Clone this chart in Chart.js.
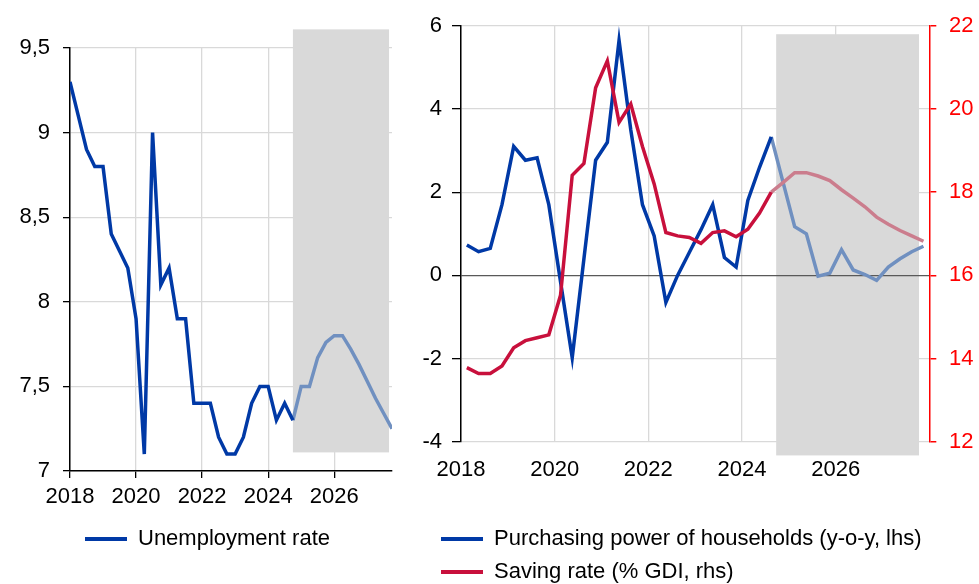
<!DOCTYPE html>
<html>
<head>
<meta charset="utf-8">
<script src="https://cdn.jsdelivr.net/npm/chart.js@4.4.1/dist/chart.umd.min.js"></script>
<style>
  html, body { margin: 0; padding: 0; background: #fff; overflow: hidden; }
  #left { position: absolute; left: 0; top: 0; }
  #right { position: absolute; left: 400px; top: 0; }
</style>
</head>
<body>
<canvas id="left" width="400" height="584"></canvas>
<canvas id="right" width="579" height="584"></canvas>
<script>
// quarterly data, 2018Q1 - 2027Q4
const quarters = [
    '2018Q1', '2018Q2', '2018Q3', '2018Q4', '2019Q1', '2019Q2', '2019Q3', '2019Q4',
    '2020Q1', '2020Q2', '2020Q3', '2020Q4', '2021Q1', '2021Q2', '2021Q3', '2021Q4',
    '2022Q1', '2022Q2', '2022Q3', '2022Q4', '2023Q1', '2023Q2', '2023Q3', '2023Q4',
    '2024Q1', '2024Q2', '2024Q3', '2024Q4', '2025Q1', '2025Q2', '2025Q3', '2025Q4',
    '2026Q1', '2026Q2', '2026Q3', '2026Q4', '2027Q1', '2027Q2', '2027Q3', '2027Q4'
];

const unemployment = [
    9.3, 9.1, 8.9, 8.8, 8.8, 8.4, 8.3, 8.2,
    7.9, 7.1, 9.0, 8.1, 8.2, 7.9, 7.9, 7.4,
    7.4, 7.4, 7.2, 7.1, 7.1, 7.2, 7.4, 7.5,
    7.5, 7.3, 7.4, 7.3, 7.5, 7.5, 7.67, 7.76,
    7.8, 7.8, 7.72, 7.63, 7.53, 7.43, 7.34, 7.25
];

const purchasingPower = [
    0.73, 0.57, 0.65, 1.7, 3.1, 2.77, 2.83, 1.7,
    -0.15, -1.98, 0.4, 2.77, 3.2, 5.65, 3.5, 1.7,
    0.95, -0.65, 0.0, 0.55, 1.1, 1.7, 0.43, 0.2,
    1.8, 2.6, 3.33, 2.25, 1.17, 1.0, -0.02, 0.05,
    0.62, 0.13, 0.02, -0.12, 0.2, 0.4, 0.57, 0.7
];

const savingRate = [
    13.78, 13.64, 13.64, 13.82, 14.26, 14.43, 14.5, 14.57,
    15.52, 18.41, 18.69, 20.51, 21.16, 19.68, 20.12, 19.1,
    18.2, 17.03, 16.95, 16.91, 16.77, 17.03, 17.07, 16.93,
    17.11, 17.5, 18.0, 18.23, 18.47, 18.47, 18.39, 18.28,
    18.06, 17.86, 17.65, 17.4, 17.23, 17.08, 16.95, 16.82
];

const unemploymentLastActual = '2024Q4';
const householdLastActual = '2024Q3';
const yearTicks = [2018, 2020, 2022, 2024, 2026];

// forecast period shading (in axis units)
const shadeLeft = { from: 2024.75, to: 2027.66, top: 9.61, bottom: 7.11 };
const shadeRight = { from: 2024.73, to: 2027.78, top: 5.8, bottom: -4.33 };

const blue = '#0039A6';
const blueLight = '#7090C0';
const red = '#C8103C';
const redLight = '#CB7D8D';
const gridGrey = '#D9D9D9';
const axisRed = '#FF0000';

Chart.defaults.font.family = "'Liberation Sans', Arial, sans-serif";
Chart.defaults.font.size = 22;
Chart.defaults.color = '#000';

function quarterToX(q, shift) {
    return Number(q.slice(0, 4)) + (Number(q.slice(5)) - 1) / 4 + shift;
}

// split one series into actual and forecast parts sharing the last actual point
function splitSeries(values, lastActual, shift) {
    const cut = quarters.indexOf(lastActual);
    const actual = values.map((v, i) => ({ x: quarterToX(quarters[i], shift), y: i <= cut ? v : null }));
    const forecast = values.map((v, i) => ({ x: quarterToX(quarters[i], shift), y: i >= cut ? v : null }));
    return [actual, forecast];
}

const shadePlugin = {
    id: 'shade',
    beforeDraw(chart, args, opts) {
        const { ctx, scales } = chart;
        const x1 = scales.x.getPixelForValue(opts.from);
        const x2 = scales.x.getPixelForValue(opts.to);
        const y1 = scales.y.getPixelForValue(opts.top);
        const y2 = scales.y.getPixelForValue(opts.bottom);
        ctx.save();
        ctx.fillStyle = gridGrey;
        ctx.fillRect(x1, y1, x2 - x1, y2 - y1);
        ctx.restore();
    }
};

// move the legend block so its first item starts at (x, y)
const legendPlacer = {
    id: 'legendPlacer',
    afterLayout(chart, args, opts) {
        const lg = chart.legend;
        const pad = lg.options.labels.padding;
        const w = lg.right - lg.left;
        const h = lg.bottom - lg.top;
        lg.left = opts.x - pad;
        lg.right = lg.left + w;
        lg.top = opts.y - pad;
        lg.bottom = lg.top + h;
    }
};

function lineSet(data, color, axis) {
    return {
        data: data,
        borderColor: color,
        backgroundColor: color,
        borderWidth: 3.5,
        pointRadius: 0,
        tension: 0,
        yAxisID: axis || 'y'
    };
}

function legendItems(items) {
    return () => items.map((it, i) => ({
        text: it[0],
        fillStyle: it[1],
        strokeStyle: it[1],
        lineWidth: 0,
        hidden: false,
        datasetIndex: i
    }));
}

const setYearTicks = scale => { scale.ticks = yearTicks.map(v => ({ value: v })); };
const commaDecimal = v => String(v).replace('.', ',');

// ---- left panel: unemployment
const [uActual, uForecast] = splitSeries(unemployment, unemploymentLastActual, 0);

new Chart(document.getElementById('left'), {
    type: 'line',
    data: {
        datasets: [
            lineSet(uActual, blue),
            lineSet(uForecast, blueLight)
        ]
    },
    plugins: [shadePlugin, legendPlacer],
    options: {
        responsive: false,
        animation: false,
        devicePixelRatio: 1,
        layout: { padding: { top: 48, left: 10, right: 8, bottom: 25 } },
        scales: {
            x: {
                type: 'linear',
                min: 2018,
                max: 2027.75,
                afterBuildTicks: setYearTicks,
                afterFit: s => { s.height = 45; },
                ticks: { callback: v => String(v), padding: 5.8, maxRotation: 0 },
                grid: { color: gridGrey, lineWidth: 1.3, tickColor: '#000', tickLength: 7 },
                border: { color: '#000', width: 1.5 }
            },
            y: {
                min: 7,
                max: 9.5,
                afterFit: s => { s.width = 60; },
                ticks: { stepSize: 0.5, callback: commaDecimal, padding: 13 },
                grid: { color: gridGrey, lineWidth: 1.3, tickColor: '#000', tickLength: 7 },
                border: { color: '#000', width: 1.5 }
            }
        },
        plugins: {
            shade: shadeLeft,
            legendPlacer: { x: 85, y: 528 },
            tooltip: { enabled: false },
            legend: {
                position: 'bottom',
                align: 'start',
                onClick: null,
                labels: {
                    boxWidth: 42,
                    boxHeight: 4,
                    padding: 11,
                    generateLabels: legendItems([['Unemployment rate', blue]])
                }
            }
        }
    }
});

// ---- right panel: purchasing power and saving rate
const [ppActual, ppForecast] = splitSeries(purchasingPower, householdLastActual, 0.125);
const [srActual, srForecast] = splitSeries(savingRate, householdLastActual, 0.125);

new Chart(document.getElementById('right'), {
    type: 'line',
    data: {
        datasets: [
            Object.assign(lineSet(srActual, red, 'y2'), { order: 0 }),
            Object.assign(lineSet(srForecast, redLight, 'y2'), { order: 1 }),
            Object.assign(lineSet(ppActual, blue), { order: 2 }),
            Object.assign(lineSet(ppForecast, blueLight), { order: 3 })
        ]
    },
    plugins: [shadePlugin, legendPlacer],
    options: {
        responsive: false,
        animation: false,
        devicePixelRatio: 1,
        layout: { padding: { top: 20.7, left: 12, right: 0, bottom: 21.3 } },
        scales: {
            x: {
                type: 'linear',
                min: 2018,
                max: 2028,
                afterBuildTicks: setYearTicks,
                afterFit: s => { s.height = 45; },
                ticks: { callback: v => String(v), padding: 15.1, maxRotation: 0 },
                grid: { color: gridGrey, lineWidth: 1.3, drawTicks: false },
                border: { display: false }
            },
            y: {
                position: 'left',
                min: -4,
                max: 6,
                afterFit: s => { s.width = 49; },
                ticks: { stepSize: 2, padding: 10 },
                grid: {
                    color: ctx => (ctx.tick && ctx.tick.value === 0 ? '#595959' : gridGrey),
                    lineWidth: 1.3,
                    tickColor: '#000',
                    tickLength: 9
                },
                border: { color: '#000', width: 1.5 }
            },
            y2: {
                position: 'right',
                min: 12,
                max: 22,
                afterFit: s => { s.width = 49.7; },
                ticks: { stepSize: 2, padding: 12.7, color: axisRed },
                grid: { drawOnChartArea: false, tickColor: axisRed, tickLength: 7, lineWidth: 1.5 },
                border: { color: axisRed, width: 1.5 }
            }
        },
        plugins: {
            shade: shadeRight,
            legendPlacer: { x: 41, y: 528 },
            tooltip: { enabled: false },
            legend: {
                position: 'bottom',
                align: 'start',
                onClick: null,
                labels: {
                    boxWidth: 42,
                    boxHeight: 4,
                    padding: 11,
                    generateLabels: legendItems([
                        ['Purchasing power of households (y-o-y, lhs)', blue],
                        ['Saving rate (% GDI, rhs)', red]
                    ])
                }
            }
        }
    }
});
</script>
</body>
</html>
